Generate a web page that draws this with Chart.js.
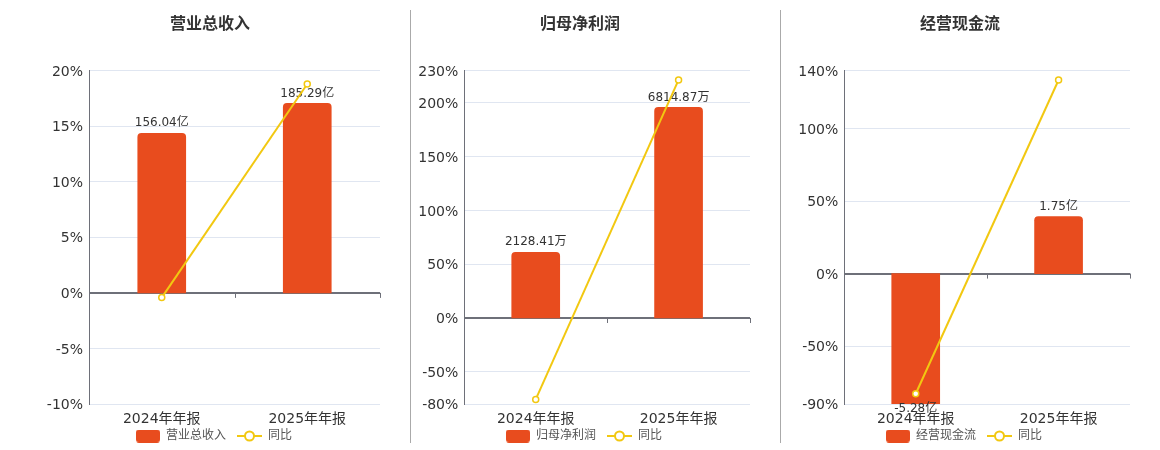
<!DOCTYPE html>
<html>
<head>
<meta charset="utf-8">
<script src="https://cdn.jsdelivr.net/npm/chart.js@4/dist/chart.umd.min.js"></script>
<style>
  html, body { margin: 0; padding: 0; background: #fff; }
  #wrap { position: relative; width: 1160px; height: 450px; overflow: hidden; }
  .panel { position: absolute; top: 0; width: 380px; height: 450px; }
  .sep { position: absolute; top: 10px; width: 1px; height: 433px; background: #aaa; }
</style>
</head>
<body>
<div id="wrap">
  <canvas class="panel" id="c1" width="380" height="450" style="left:20px"></canvas>
  <canvas class="panel" id="c2" width="380" height="450" style="left:390px"></canvas>
  <canvas class="panel" id="c3" width="380" height="450" style="left:770px"></canvas>
  <div class="sep" style="left:410px"></div>
  <div class="sep" style="left:780px"></div>
</div>
<script>
// data
const categories = ['2024年年报', '2025年年报'];

const revenue = [156.04, 185.29];        // 亿
const revenueYoy = [-0.42, 18.8];        // %
const revenueTicks = [-10, -5, 0, 5, 10, 15, 20];

const profit = [2128.41, 6814.87];       // 万
const profitYoy = [-75.7, 221.4];
const profitTicks = [-80, -50, 0, 50, 100, 150, 200, 230];

const cashflow = [-5.28, 1.75];          // 亿
const cashflowYoy = [-82.9, 133.6];
const cashflowTicks = [-90, -50, 0, 50, 100, 140];

const BAR_COLOR = '#e84c1e';
const LINE_COLOR = '#f2c811';
const AXIS_COLOR = '#6e7079';
const GRID_COLOR = '#e0e6f1';

Chart.defaults.font.family = '"DejaVu Sans", "Noto Sans CJK SC", sans-serif';
Chart.defaults.color = '#333';

// legend glyphs (blank on the left gives the gap between items)
const makeBarIcon = () => {
    const c = document.createElement('canvas');
    c.width = 32; c.height = 13;
    const g = c.getContext('2d');
    g.fillStyle = BAR_COLOR;
    g.beginPath();
    g.roundRect(8, 0, 24, 13, 3);
    g.fill();
    return c;
}
const makeLineIcon = () => {
    const c = document.createElement('canvas');
    c.width = 32; c.height = 12;
    const g = c.getContext('2d');
    g.strokeStyle = LINE_COLOR;
    g.lineWidth = 2;
    g.beginPath();
    g.moveTo(7, 6); g.lineTo(32, 6);
    g.stroke();
    g.fillStyle = '#fff';
    g.beginPath();
    g.arc(19.5, 6, 4.5, 0, Math.PI * 2);
    g.fill();
    g.stroke();
    return c;
}
const legendIcons = [makeBarIcon(), makeLineIcon()];

// value labels on bars + small ticks on the zero line
const barLabels = {
    id: 'barLabels',
    beforeDatasetsDraw(chart) {
        const {ctx} = chart;
        const x = chart.scales.x;
        const zeroY = chart.scales.y.getPixelForValue(0);
        ctx.save();
        ctx.strokeStyle = AXIS_COLOR;
        ctx.lineWidth = 1;
        for (let i = 0; i < categories.length; i++) {
            const px = Math.round(x.getPixelForValue(i + 0.5)) + 0.5;
            ctx.beginPath();
            ctx.moveTo(px, zeroY);
            ctx.lineTo(px, zeroY + 5);
            ctx.stroke();
        }
        ctx.restore();
    },
    afterDatasetDraw(chart, args) {
        if (args.index !== 0) return;
        const {ctx, chartArea} = chart;
        const ds = chart.data.datasets[0];
        const meta = chart.getDatasetMeta(0);
        ctx.save();
        ctx.font = '12px "DejaVu Sans", "Noto Sans CJK SC", sans-serif';
        ctx.fillStyle = '#333';
        ctx.textAlign = 'center';
        ctx.textBaseline = 'middle';
        meta.data.forEach((bar, i) => {
            const v = ds.data[i];
            const text = v.toFixed(2) + ds.unit;
            let y;
            if (v >= 0) {
                y = bar.y - 10;
            } else {
                y = Math.min(bar.y, chartArea.bottom) + 5;
            }
            ctx.fillText(text, bar.x, y);
        });
        ctx.restore();
    }
};

const makeChart = (id, title, name, unit, bars, yoy, ticks, barScale, yWidth) => {
    const yMin = ticks[0];
    const yMax = ticks[ticks.length - 1];
    return new Chart(document.getElementById(id), {
        type: 'bar',
        data: {
            labels: categories,
            datasets: [{
                type: 'bar',
                label: name,
                unit: unit,
                data: bars,
                yAxisID: 'y1',
                backgroundColor: BAR_COLOR,
                borderRadius: 4,
                barThickness: 48,
                order: 1
            }, {
                type: 'line',
                label: '同比',
                data: yoy,
                yAxisID: 'y',
                borderColor: LINE_COLOR,
                borderWidth: 2,
                pointRadius: 3,
                pointBorderWidth: 1.5,
                pointBackgroundColor: '#fff',
                pointBorderColor: LINE_COLOR,
                tension: 0,
                order: 0
            }]
        },
        options: {
            responsive: false,
            animation: false,
            layout: { padding: { left: 20, right: 20, top: 0, bottom: -2 } },
            plugins: {
                title: {
                    display: true,
                    text: title,
                    color: '#333',
                    font: { size: 16, weight: 'bold' },
                    padding: { top: 15, bottom: 36.5 }
                },
                legend: {
                    position: 'bottom',
                    labels: {
                        usePointStyle: true,
                        pointStyleWidth: 32,
                        padding: 4,
                        color: '#555',
                        font: { size: 12 },
                        sort: (a, b) => a.datasetIndex - b.datasetIndex,
                        generateLabels: (chart) => {
                            const items = Chart.defaults.plugins.legend.labels.generateLabels(chart);
                            items.forEach(it => { it.pointStyle = legendIcons[it.datasetIndex]; });
                            return items;
                        }
                    }
                },
                tooltip: { enabled: false }
            },
            scales: {
                x: {
                    grid: { display: false, drawTicks: true, tickLength: 8 },
                    border: { display: false },
                    ticks: { font: { size: 14, lineHeight: 1 }, color: '#333', padding: 0 }
                },
                y: {
                    position: 'left',
                    min: yMin,
                    max: yMax,
                    afterBuildTicks: (s) => { s.ticks = ticks.map(v => ({value: v})); },
                    afterFit: (s) => { s.width = yWidth; },
                    ticks: {
                        font: { size: 14 },
                        color: '#333',
                        padding: 6,
                        labelOffset: 1.5,
                        callback: (v) => v + '%'
                    },
                    grid: {
                        drawTicks: false,
                        color: (c) => c.tick && c.tick.value === 0 ? AXIS_COLOR : GRID_COLOR,
                        lineWidth: (c) => c.tick && c.tick.value === 0 ? 2 : 1
                    },
                    border: { display: true, color: AXIS_COLOR, width: 1 }
                },
                y1: {
                    display: false,
                    min: yMin * barScale,
                    max: yMax * barScale
                }
            }
        },
        plugins: [barLabels]
    });
}

makeChart('c1', '营业总收入', '营业总收入', '亿', revenue, revenueYoy, revenueTicks, 10.866, 49);
makeChart('c2', '归母净利润', '归母净利润', '万', profit, profitYoy, profitTicks, 34.79, 54.3);
makeChart('c3', '经营现金流', '经营现金流', '亿', cashflow, cashflowYoy, cashflowTicks, 0.0444, 54.3);
</script>
</body>
</html>
